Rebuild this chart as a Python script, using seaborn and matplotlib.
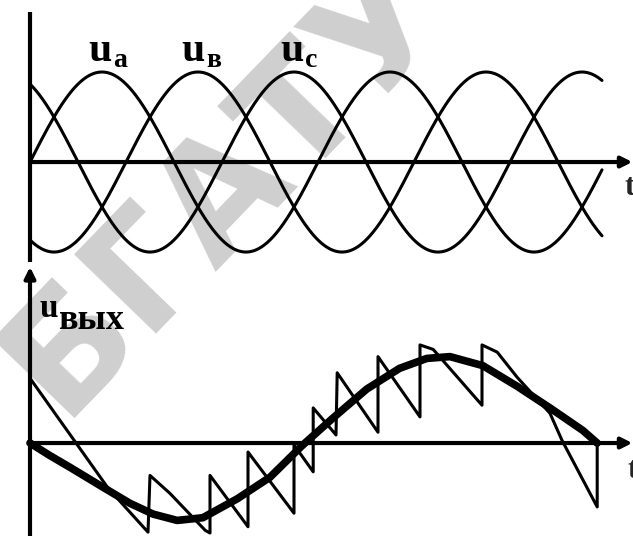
import numpy as np
import pandas as pd
import matplotlib
matplotlib.use("Agg")
import matplotlib.pyplot as plt
import seaborn as sns

# ---- supply voltages (three phases) ----
phase_labels = ["а", "в", "с"]
phase_shift_deg = [0, -120, 120]
phase_amplitude = 1.0
supply_end_deg = 715

# ---- converter output: thin line made of pieces of the supply phases ----
saw_t = [0, 97.5, 147.5, 150, 175, 219, 225, 225, 272.5, 272.5, 330, 330,
         354, 354, 382.5, 384, 435, 435, 487.5, 487.5, 504, 565, 565, 584,
         609, 650, 665, 709, 709]
saw_u = [0.72, -0.50, -0.99, -0.36, -0.56, -0.97, -1.00, -0.36, -0.93, -0.10,
         -0.78, -0.02, -0.32, 0.39, 0.09, 0.78, 0.12, 0.96, 0.29, 1.09, 1.04,
         0.42, 1.09, 1.01, 0.73, 0.33, 0.03, -0.71, 0.0]

# ---- fundamental of the output voltage (thick line) ----
out_t = [0, 25, 50, 91, 125, 154, 184, 216, 259, 300, 340, 379, 421, 462,
         496, 525, 566, 609, 650, 691, 709]
out_u = [0.0, -0.14, -0.27, -0.49, -0.67, -0.79, -0.86, -0.83, -0.62, -0.38,
         -0.03, 0.28, 0.60, 0.83, 0.94, 0.96, 0.86, 0.63, 0.39, 0.14, 0.0]

W, H = 633, 536
sns.set_theme(style="white")
plt.rcParams["font.family"] = ["Liberation Serif", "DejaVu Serif"]

fig = plt.figure(figsize=(W / 100, H / 100), dpi=100)
ax_top = fig.add_axes([0, 1 - 265 / H, 1, 265 / H])
ax_bot = fig.add_axes([0, 0, 1, 271 / H])

XLIM = (-37.5, 753.75)
ax_top.set_xlim(*XLIM)
ax_top.set_ylim(-1.144, 1.8)
ax_bot.set_xlim(*XLIM)
ax_bot.set_ylim(-1.033, 1.978)
for ax in (ax_top, ax_bot):
    ax.set_axis_off()
    ax.patch.set_visible(False)

# watermark behind the drawing
fig.text(0.356, 0.655, "БГАТУ", rotation=46, rotation_mode="anchor",
         ha="center", va="center", fontsize=112, fontweight="bold",
         family="DejaVu Sans", color="#cfcfcf", zorder=-5)

# ---- top panel: three-phase supply ----
t = np.linspace(0, supply_end_deg, 800)
frames = []
for name, shift in zip(phase_labels, phase_shift_deg):
    frames.append(pd.DataFrame({
        "t": t,
        "u": phase_amplitude * np.sin(np.radians(t + shift)),
        "phase": name,
    }))
supply = pd.concat(frames, ignore_index=True)
sns.lineplot(data=supply, x="t", y="u", hue="phase",
             palette=["black"] * 3, linewidth=2.2, legend=False,
             estimator=None, sort=False, ax=ax_top)

axis_kw = dict(color="black", lw=3.0, solid_capstyle="butt")
ax_top.plot([0, 0], [-1.11, 1.667], **axis_kw)
ax_top.annotate("", xy=(753, 0), xytext=(0, 0),
                arrowprops=dict(arrowstyle="-|>", lw=3.0, color="black",
                                mutation_scale=16, shrinkA=0, shrinkB=0))
ax_top.text(743, -0.28, "t", fontsize=22, fontweight="bold",
            ha="left", va="center")

label_font = dict(fontweight="bold", color="black")
for t0, name in zip([73, 189, 313], phase_labels):
    ax_top.text(t0, 1.12, "u", fontsize=30, ha="left", va="baseline",
                **label_font)
    ax_top.text(t0 + 31, 1.06, name, fontsize=20, ha="left",
                va="baseline", **label_font)

# ---- bottom panel: converter output ----
saw = pd.DataFrame({"t": saw_t, "u": saw_u})
sns.lineplot(data=saw, x="t", y="u", color="black", linewidth=2.2,
             estimator=None, sort=False, ax=ax_bot)
out = pd.DataFrame({"t": out_t, "u": out_u})
sns.lineplot(data=out, x="t", y="u", color="black", linewidth=5.5,
             estimator=None, sort=False, ax=ax_bot)
ax_bot.lines[-1].set_solid_joinstyle("round")
ax_bot.lines[-1].set_solid_capstyle("round")

ax_bot.annotate("", xy=(0, 1.956), xytext=(0, -1.033),
                arrowprops=dict(arrowstyle="-|>", lw=3.0, color="black",
                                mutation_scale=16, shrinkA=0, shrinkB=0))
ax_bot.annotate("", xy=(753, 0), xytext=(0, 0),
                arrowprops=dict(arrowstyle="-|>", lw=3.0, color="black",
                                mutation_scale=16, shrinkA=0, shrinkB=0))
ax_bot.text(747, -0.3, "t", fontsize=22, fontweight="bold",
            ha="left", va="center")
ax_bot.text(12, 1.40, "u", fontsize=24, ha="left", va="baseline",
            **label_font)
ax_bot.text(35, 1.27, "вых", fontsize=26, ha="left", va="baseline",
            **label_font)

fig.savefig("out.png", dpi=100, facecolor="white")
